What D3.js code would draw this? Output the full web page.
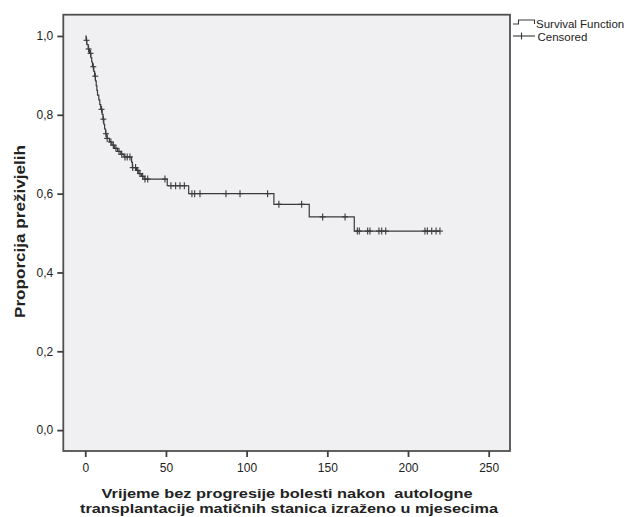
<!DOCTYPE html>
<html><head><meta charset="utf-8">
<script src="https://cdn.jsdelivr.net/npm/d3@7"></script>
<style>
html,body{margin:0;padding:0;background:#fff;}
svg{display:block;font-family:"Liberation Sans",Arial,sans-serif;}
</style></head>
<body>
<svg id="chart" width="629" height="517"></svg>
<script>
// Kaplan-Meier step data (time in months, survival proportion after the event)
const stepTimes = [0, 0.5, 1.0, 1.8, 2.6, 3.5, 4.0, 4.5, 5.3, 5.8, 6.3, 6.8, 7.2, 7.6, 8.4, 9.0, 9.6, 10.5, 11.0, 11.5, 12.0, 12.6, 13.4, 15.0, 16.5, 18.0, 20.0, 22.0, 24.0, 28.7, 29.2, 31.8, 33.2, 34.8, 36.5, 50.8, 64.1, 116.9, 138.8, 166.7];
const stepSurvival = [1.0, 0.989, 0.978, 0.967, 0.956, 0.945, 0.934, 0.922, 0.910, 0.898, 0.886, 0.874, 0.862, 0.850, 0.838, 0.826, 0.814, 0.801, 0.789, 0.776, 0.764, 0.752, 0.740, 0.731, 0.723, 0.715, 0.707, 0.700, 0.693, 0.680, 0.666, 0.659, 0.651, 0.644, 0.637, 0.620, 0.600, 0.573, 0.541, 0.505];
const censoredTimes = [0.8, 2.1, 3.3, 5.0, 6.2, 10.1, 11.2, 12.8, 13.6, 15.9, 17.4, 19.0, 20.9, 22.6, 24.6, 26.0, 27.7, 29.4, 31.2, 32.5, 33.9, 35.6, 37.0, 38.7, 49.4, 53.1, 56.0, 58.7, 61.4, 66.1, 67.8, 71.1, 87.2, 95.9, 113.0, 120.0, 134.1, 147.1, 161.0, 168.6, 169.8, 175.0, 176.4, 182.0, 183.7, 186.2, 210.5, 212.0, 214.7, 217.4, 219.8];
const xTicks = [0, 50, 100, 150, 200, 250];
const yTicks = [0, 0.2, 0.4, 0.6, 0.8, 1.0];
const legendLabels = ["Survival Function", "Censored"];
const xTitle = ["Vrijeme bez progresije bolesti nakon  autologne", "transplantacije matičnih stanica izraženo u mjesecima"];
const yTitle = "Proporcija preživjelih";

const svg = d3.select("#chart");
const L = 63.3, R = 510, T = 14.7, B = 451;
const x = d3.scaleLinear().domain([-13.6, 263.2]).range([L, R]);
const y = d3.scaleLinear().domain([-0.053, 1.054]).range([B, T]);

const loc = d3.formatLocale({decimal: ",", thousands: ".", grouping: [3], currency: ["", ""]});
const fmt = loc.format(".1f");

// plot background
svg.append("rect").attr("x", L).attr("y", T).attr("width", R - L).attr("height", B - T)
  .attr("fill", "#f0f0f2");

// curve
const pts = stepTimes.map((t, i) => [t, stepSurvival[i]]);
const lastT = censoredTimes[censoredTimes.length - 1];
pts.push([lastT, stepSurvival[stepSurvival.length - 1]]);
const line = d3.line().x(d => x(d[0])).y(d => y(d[1])).curve(d3.curveStepAfter);
svg.append("path").attr("d", line(pts)).attr("fill", "none")
  .attr("stroke", "#3a3a3a").attr("stroke-width", 1.2);

// censored marks
const bis = d3.bisector(d => d).right;
function survAt(t) { const i = bis(stepTimes, t) - 1; return stepSurvival[Math.max(0, i)]; }
const cg = svg.append("g").attr("stroke", "#3a3a3a").attr("stroke-width", 1.1);
censoredTimes.forEach(t => {
  const cx = x(t), cy = y(survAt(t));
  cg.append("line").attr("x1", cx).attr("x2", cx).attr("y1", cy - 3.5).attr("y2", cy + 3.5);
  cg.append("line").attr("x1", cx - 3).attr("x2", cx + 3).attr("y1", cy).attr("y2", cy);
});

// frame
svg.append("rect").attr("x", L).attr("y", T).attr("width", R - L).attr("height", B - T)
  .attr("fill", "none").attr("stroke", "#505050").attr("stroke-width", 1.8);

// axes
const xa = svg.append("g").attr("transform", `translate(0,${B})`)
  .call(d3.axisBottom(x).tickValues(xTicks).tickSize(6).tickPadding(6).tickFormat(d3.format("d")));
const ya = svg.append("g").attr("transform", `translate(${L},0)`)
  .call(d3.axisLeft(y).tickValues(yTicks).tickSize(6).tickPadding(4).tickFormat(fmt));
[xa, ya].forEach(g => {
  g.select(".domain").remove();
  g.selectAll(".tick line").attr("stroke", "#404040").attr("stroke-width", 1.8);
  g.selectAll(".tick text").attr("fill", "#222").style("font-size", "12px")
    .style("font-family", '"Liberation Sans", Arial, sans-serif');
});

// axis titles (two separate lines)
const xtStyle = s => s.attr("text-anchor", "middle").style("font-size", "13px")
  .style("font-weight", "bold").attr("fill", "#222").style("white-space", "pre")
  .attr("lengthAdjust", "spacingAndGlyphs");
svg.append("text").call(xtStyle).attr("x", 287).attr("y", 497.5).attr("textLength", 371).text(xTitle[0]);
svg.append("text").call(xtStyle).attr("x", 289).attr("y", 512.8).attr("textLength", 418).text(xTitle[1]);

svg.append("text").attr("transform", "translate(25,231.5) rotate(-90)")
  .attr("text-anchor", "middle").style("font-size", "15px").style("font-weight", "bold")
  .attr("textLength", 173).attr("lengthAdjust", "spacingAndGlyphs")
  .attr("fill", "#222").text(yTitle);

// legend
const lg = svg.append("g").attr("stroke", "#3a3a3a").attr("stroke-width", 1.1).attr("fill", "none");
lg.append("path").attr("d", "M513,24 H518.5 V20 H534.5 V24");
lg.append("line").attr("x1", 513).attr("x2", 535).attr("y1", 36).attr("y2", 36);
lg.append("line").attr("x1", 521.5).attr("x2", 521.5).attr("y1", 32.5).attr("y2", 39.5);
svg.append("text").attr("x", 536).attr("y", 27.5).style("font-size", "11.5px").attr("fill", "#222").text(legendLabels[0]);
svg.append("text").attr("x", 537.5).attr("y", 41).style("font-size", "11.5px").attr("fill", "#222").text(legendLabels[1]);
</script>
</body></html>
